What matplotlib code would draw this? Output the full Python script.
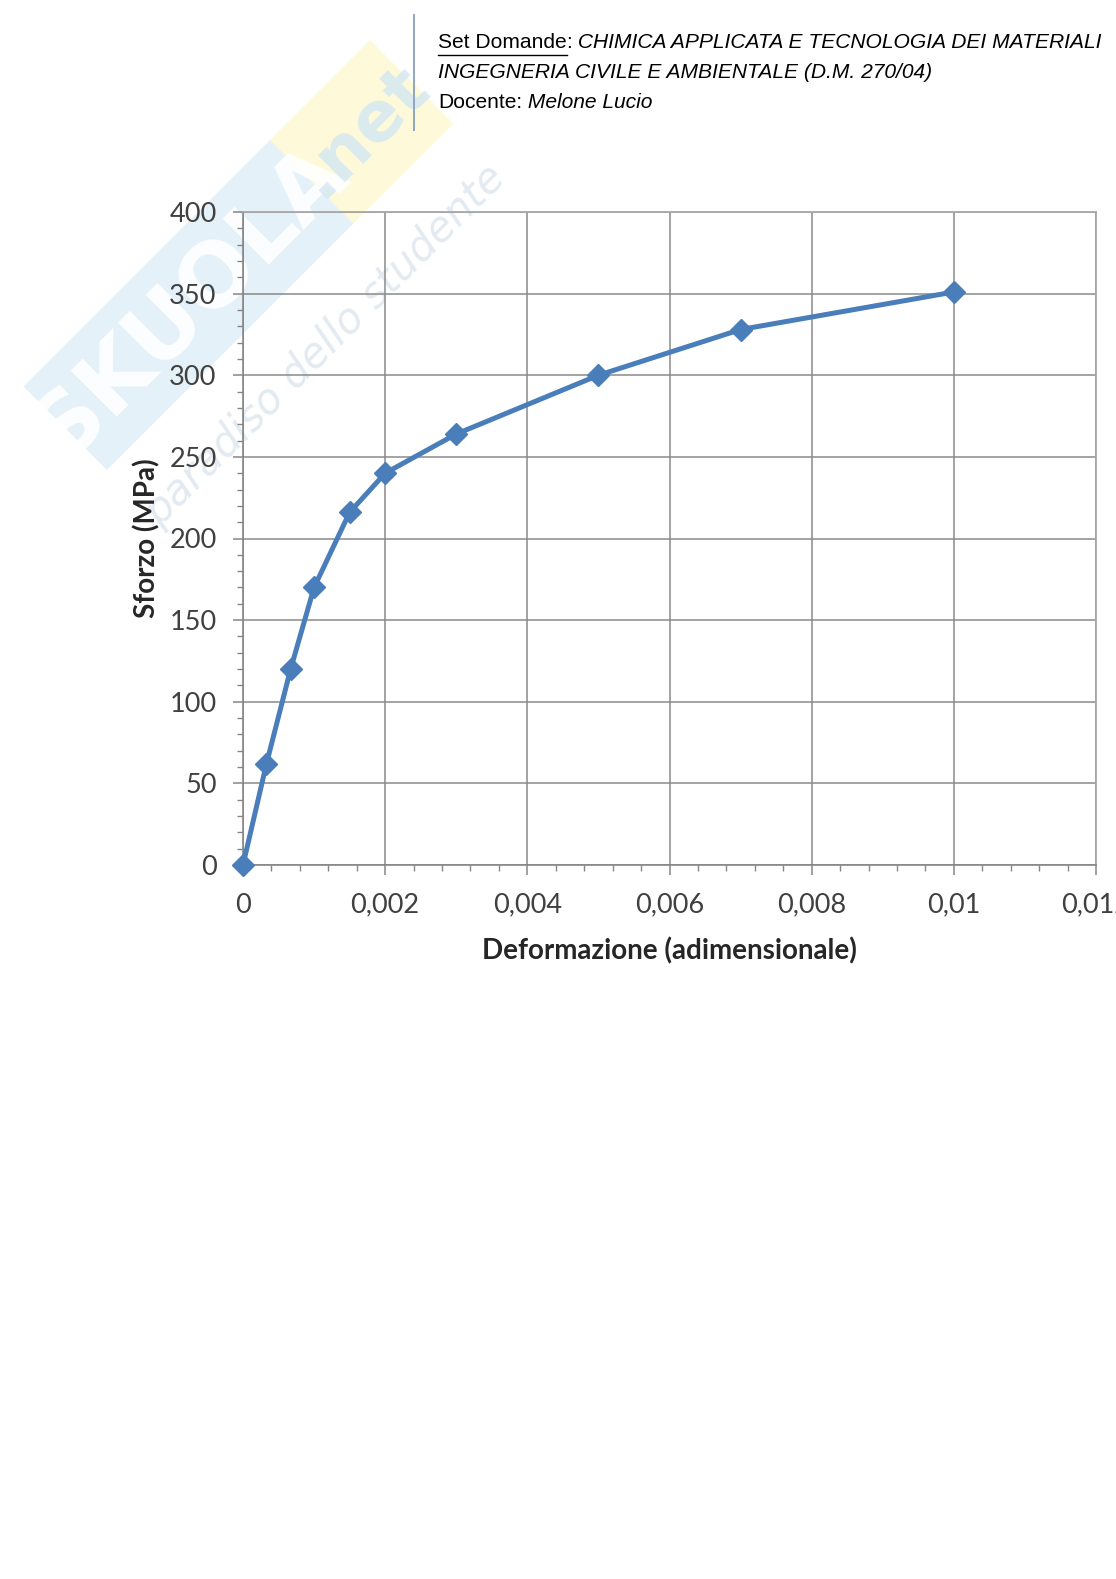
import matplotlib
matplotlib.use("Agg")
import matplotlib.pyplot as plt
from matplotlib.patches import Polygon
from matplotlib.lines import Line2D
from matplotlib.ticker import FixedLocator, FixedFormatter, MultipleLocator

# Stress-strain data
deformazione = [0.0, 0.00033, 0.00067, 0.001, 0.0015, 0.002, 0.003, 0.005, 0.007, 0.01]
sforzo = [0, 62, 120, 170, 216, 240, 264, 300, 328, 351]

x_ticks = [0.0, 0.002, 0.004, 0.006, 0.008, 0.010, 0.012]
x_tick_labels = ["0", "0,002", "0,004", "0,006", "0,008", "0,01", "0,012"]
y_ticks = [0, 50, 100, 150, 200, 250, 300, 350, 400]
y_tick_labels = ["0", "50", "100", "150", "200", "250", "300", "350", "400"]

header_label = "Set Domande"
header_course = "CHIMICA APPLICATA E TECNOLOGIA DEI MATERIALI"
header_degree = "INGEGNERIA CIVILE E AMBIENTALE (D.M. 270/04)"
header_teacher_label = "Docente:"
header_teacher = "Melone Lucio"

W, H = 1116, 1579
fig = plt.figure(figsize=(W / 100, H / 100), dpi=100)
fig.patch.set_facecolor("white")


def fx(x):
    return x / W


def fy(y):
    return 1 - y / H


# ---- Watermark (drawn beneath the chart) ----
def pq(p, q):
    # band coordinates: p = x + y, q = x - y (pixels)
    return (fx((p + q) / 2), fy((p - q) / 2))


blue_band = Polygon([pq(410, -363), pq(577, -363), pq(577, 130), pq(410, 130)],
                    closed=True, transform=fig.transFigure, facecolor="#cfe6f5",
                    edgecolor="none", alpha=0.55, zorder=-3)
yellow_box = Polygon([pq(410, 130), pq(577, 130), pq(577, 330), pq(410, 330)],
                     closed=True, transform=fig.transFigure, facecolor="#fbf0a0",
                     edgecolor="none", alpha=0.4, zorder=-3)
fig.add_artist(blue_band)
fig.add_artist(yellow_box)
cx, cy = pq(493, -112)
fig.text(cx, cy, "SKUOLA", rotation=45, rotation_mode="anchor", ha="center",
         va="center", fontsize=64, fontweight="bold", fontfamily="DejaVu Sans",
         color="white", alpha=0.9, zorder=-2)
nx, ny = pq(493, 232)
fig.text(nx, ny, ".net", rotation=45, rotation_mode="anchor", ha="center",
         va="center", fontsize=50, fontweight="bold", fontfamily="DejaVu Sans",
         color="#cfe6f5", alpha=0.75, zorder=-2)
sx, sy = pq(670, -20)
fig.text(sx, sy, "paradiso dello studente", rotation=45, rotation_mode="anchor",
         ha="center", va="center", fontsize=30, style="italic", fontfamily="DejaVu Sans",
         color="#c9d6e3", alpha=0.5, zorder=-2)

# ---- Chart ----
ax = fig.add_axes([fx(243), fy(865), fx(1096) - fx(243), fy(212) - fy(865)])
ax.patch.set_alpha(0.0)
ax.plot(deformazione, sforzo, color="#4a7ebb", lw=3.6, marker="D", ms=11.5,
        markerfacecolor="#4a7ebb", markeredgecolor="#4a7ebb", zorder=5,
        solid_joinstyle="round", clip_on=False)

ax.set_xlim(0, 0.012)
ax.set_ylim(0, 400)
ax.xaxis.set_major_locator(FixedLocator(x_ticks))
ax.xaxis.set_major_formatter(FixedFormatter(x_tick_labels))
ax.yaxis.set_major_locator(FixedLocator(y_ticks))
ax.yaxis.set_major_formatter(FixedFormatter(y_tick_labels))
ax.xaxis.set_minor_locator(MultipleLocator(0.0004))
ax.yaxis.set_minor_locator(MultipleLocator(10))

grid_col = "#8a8a8a"
ax.grid(True, which="major", color=grid_col, lw=1.1)
ax.set_axisbelow(True)
for side in ["left", "bottom"]:
    ax.spines[side].set_color("#868686")
    ax.spines[side].set_linewidth(1.2)
for side in ["top", "right"]:
    ax.spines[side].set_color("#a8a8a8")
    ax.spines[side].set_linewidth(1.3)

tick_font = "Lato"
ax.tick_params(which="major", direction="out", length=7, width=1.1, color="#868686",
               labelsize=19.5, labelcolor="#404040")
ax.tick_params(which="minor", direction="out", length=4.5, width=1.0, color="#868686")
for lab in ax.get_xticklabels() + ax.get_yticklabels():
    lab.set_fontfamily(tick_font)
ax.tick_params(axis="x", pad=13)
ax.tick_params(axis="y", pad=12)

ax.set_xlabel("Deformazione (adimensionale)", fontfamily=tick_font, fontweight="bold",
              fontsize=20, color="#262626", labelpad=14)
ax.set_ylabel("Sforzo (MPa)", fontfamily=tick_font, fontweight="bold",
              fontsize=20, color="#262626", labelpad=6)

# ---- Page header ----
fig.add_artist(Line2D([fx(414), fx(414)], [fy(15), fy(130)], transform=fig.transFigure,
                      color="#8fa6c4", lw=1.4))

hfont = "Liberation Sans"
hsize = 15.1
y1, y2, y3 = 52, 82, 112
t1 = fig.text(fx(438), fy(y1), header_label, fontfamily=hfont, fontsize=hsize,
              color="black", va="bottom", ha="left")
fig.canvas.draw()
r = fig.canvas.get_renderer()
bb1 = t1.get_window_extent(r)
t2 = fig.text(bb1.x1 / W, fy(y1), ":", fontfamily=hfont, fontsize=hsize,
              color="black", va="bottom", ha="left")
fig.canvas.draw()
bb2 = t2.get_window_extent(r)
fig.text(bb2.x1 / W, fy(y1), " " + header_course, fontfamily=hfont, fontsize=hsize,
         style="italic", color="black", va="bottom", ha="left")
# underline under the label
fig.add_artist(Line2D([bb1.x0 / W, bb1.x1 / W], [fy(y1 + 2.5), fy(y1 + 2.5)],
                      transform=fig.transFigure, color="black", lw=1.0))

fig.text(fx(438), fy(y2), header_degree, fontfamily=hfont, fontsize=hsize,
         style="italic", color="black", va="bottom", ha="left")
t3 = fig.text(fx(438), fy(y3), header_teacher_label, fontfamily=hfont, fontsize=hsize,
              color="black", va="bottom", ha="left")
fig.canvas.draw()
bb3 = t3.get_window_extent(r)
fig.text(bb3.x1 / W, fy(y3), " " + header_teacher, fontfamily=hfont, fontsize=hsize,
         style="italic", color="black", va="bottom", ha="left")

fig.savefig("out.png", dpi=100)
